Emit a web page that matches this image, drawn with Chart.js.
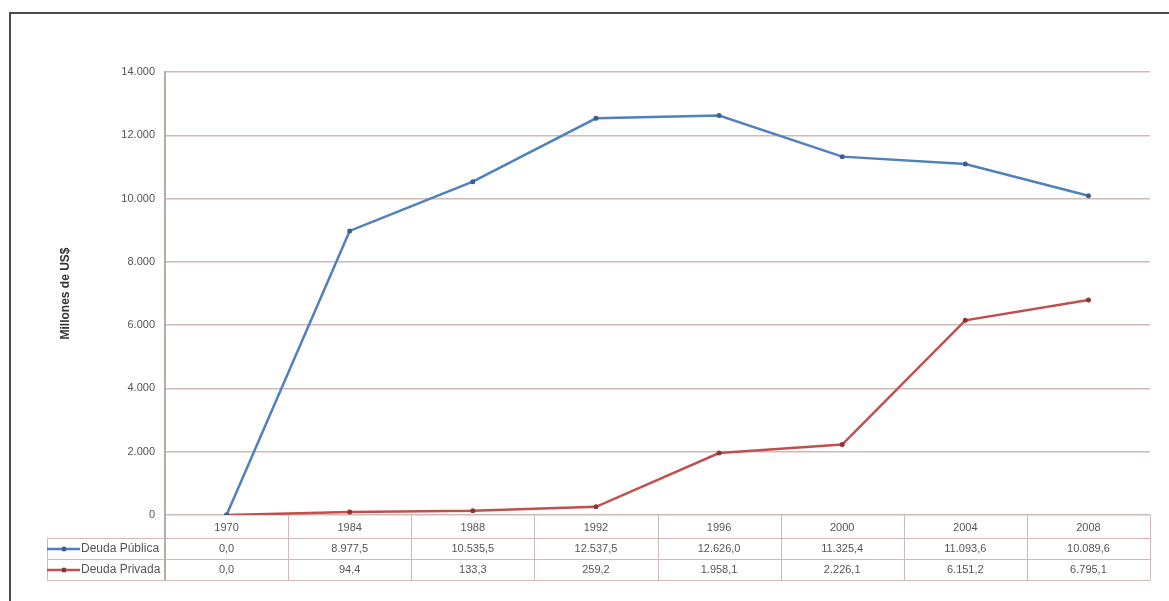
<!DOCTYPE html>
<html>
<head>
<meta charset="utf-8">
<script src="https://cdn.jsdelivr.net/npm/chart.js@4/dist/chart.umd.min.js"></script>
<style>
    html, body { margin: 0; padding: 0; background: #fff; overflow: hidden; }
    #marco { position: absolute; left: 9px; top: 12px; width: 2000px; height: 2000px; border: 2px solid #4a4a4a; }
    #caja { position: absolute; left: 0; top: 0; width: 1169px; height: 601px; }
</style>
</head>
<body>
<div id="marco"></div>
<div id="caja"><canvas id="myChart"></canvas></div>
<script>
// TODO datos del grafico
const anios = ["1970", "1984", "1988", "1992", "1996", "2000", "2004", "2008"];
const deudaPublica = [0.0, 8977.5, 10535.5, 12537.5, 12626.0, 11325.4, 11093.6, 10089.6];
const deudaPrivada = [0.0, 94.4, 133.3, 259.2, 1958.1, 2226.1, 6151.2, 6795.1];
const ticksY = [0, 2000, 4000, 6000, 8000, 10000, 12000, 14000];
const nombres = ["Deuda Pública", "Deuda Privada"];
const colores = ["#4F81BD", "#C0504D"];
const colorPuntos = ["#3b5f8f", "#8f3431"];

const fuente = "'Liberation Sans', Arial, sans-serif";
const colorTexto = "#555";
const colorGrilla = "#d2b9b5";

//* formato con separador de miles y coma decimal
const formato = (v) => new Intl.NumberFormat("de-DE", {minimumFractionDigits: 1, maximumFractionDigits: 1}).format(v);

//! plugin que dibuja la tabla de datos bajo el grafico
const tablaDatos = {
    id: "tablaDatos",
    afterDraw(chart){
        const ctx = chart.ctx;
        const x = chart.scales.x;
        const area = chart.chartArea;
        const paso = x.getPixelForValue(1) - x.getPixelForValue(0);
        const textoY = [528, 549, 570];
        const lineasY = [538, 559, 580];
        const izq = 47;
        ctx.save();
        ctx.strokeStyle = colorGrilla;
        ctx.lineWidth = 1;
        ctx.beginPath();
        lineasY.forEach((y) => { ctx.moveTo(izq, y + 0.5); ctx.lineTo(area.right, y + 0.5); });
        ctx.moveTo(izq + 0.5, lineasY[0]); ctx.lineTo(izq + 0.5, lineasY[2]);
        for (let i = 0; i < anios.length; i++){
            const bx = Math.round(x.getPixelForValue(i) + paso / 2) + 0.5;
            ctx.moveTo(bx, area.bottom); ctx.lineTo(bx, lineasY[2]);
        }
        ctx.stroke();
        ctx.strokeStyle = "#b9aaa7";
        ctx.lineWidth = 2;
        ctx.beginPath();
        ctx.moveTo(area.left, area.bottom); ctx.lineTo(area.left, lineasY[2]);
        ctx.stroke();

        ctx.fillStyle = colorTexto;
        ctx.font = "11px " + fuente;
        ctx.textAlign = "center";
        ctx.textBaseline = "middle";
        const filas = [deudaPublica, deudaPrivada];
        anios.forEach((a, i) => {
            const cx = x.getPixelForValue(i);
            ctx.fillText(a, cx, textoY[0]);
            filas.forEach((serie, k) => ctx.fillText(formato(serie[i]), cx, textoY[k + 1]));
        });

        // claves de la leyenda
        nombres.forEach((n, k) => {
            const y = textoY[k + 1];
            ctx.strokeStyle = colores[k];
            ctx.lineWidth = 2.5;
            ctx.beginPath(); ctx.moveTo(izq, y); ctx.lineTo(80, y); ctx.stroke();
            ctx.fillStyle = colorPuntos[k];
            ctx.beginPath(); ctx.arc(64, y, 2.5, 0, Math.PI * 2); ctx.fill();
            ctx.fillStyle = colorTexto;
            ctx.textAlign = "left";
            ctx.font = "12px " + fuente;
            ctx.fillText(n, 81, y);
        });
        ctx.restore();
    }
};

let myChart = new Chart(document.getElementById("myChart"), {
    type: "line",
    data: {
        labels: anios,
        datasets: [
            {label: nombres[0], data: deudaPublica, borderColor: colores[0], backgroundColor: colorPuntos[0],
             borderWidth: 2.5, pointRadius: 2.5, pointBorderWidth: 0, tension: 0},
            {label: nombres[1], data: deudaPrivada, borderColor: colores[1], backgroundColor: colorPuntos[1],
             borderWidth: 2.5, pointRadius: 2.5, pointBorderWidth: 0, tension: 0}
        ]
    },
    options: {
        responsive: true,
        maintainAspectRatio: false,
        animation: false,
        layout: {padding: {left: 0, right: 19, top: 72, bottom: 0}},
        plugins: {legend: {display: false}, tooltip: {enabled: false}},
        scales: {
            x: {
                offset: true,
                grid: {display: false},
                border: {display: false},
                ticks: {display: false},
                afterFit: (s) => { s.height = 86; }
            },
            y: {
                min: 0, max: 14000,
                afterBuildTicks: (s) => { s.ticks = ticksY.map((v) => ({value: v})); },
                afterFit: (s) => { s.width = 165; },
                grid: {color: colorGrilla, lineWidth: 1.5, drawTicks: false},
                border: {color: "#b9aaa7", width: 2},
                ticks: {
                    padding: 10, color: colorTexto, font: {size: 11, family: fuente},
                    callback: (v) => new Intl.NumberFormat("de-DE").format(v)
                },
                title: {
                    display: true, text: "Millones de US$", color: "#333",
                    font: {size: 12, weight: "bold", family: fuente},
                    padding: {top: 58, bottom: 0}
                }
            }
        }
    },
    plugins: [tablaDatos]
});
</script>
</body>
</html>
